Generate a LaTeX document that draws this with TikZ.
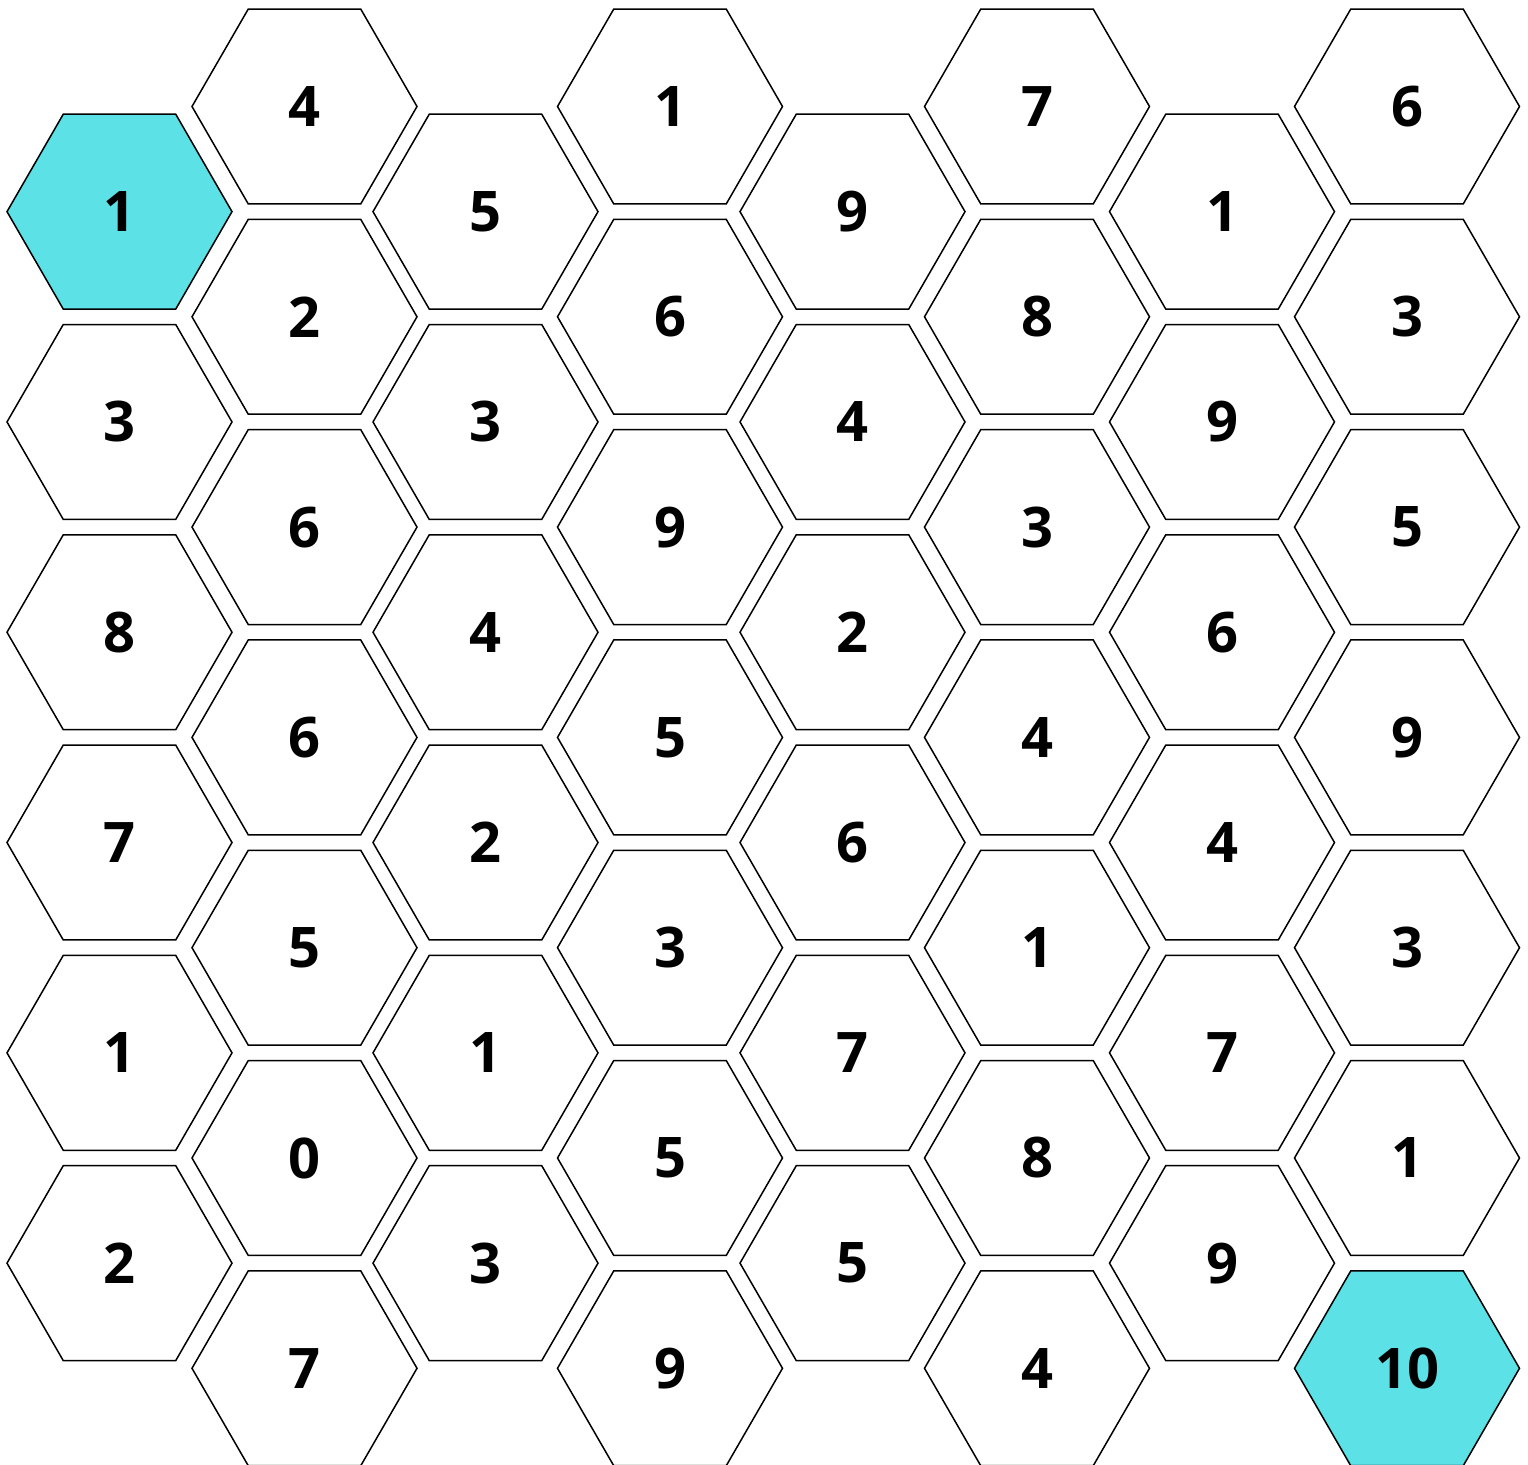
\documentclass[tikz,border=0pt]{standalone}
\usepackage{fontspec}
\setmainfont{Open Sans}
\usetikzlibrary{shapes.geometric}
\definecolor{goal}{HTML}{5CE1E6}

\begin{document}
\begin{tikzpicture}[x=0.5pt,y=-0.5pt,
  hexcell/.style={draw,line width=0.75pt,regular polygon,regular polygon sides=6,minimum size=112.5pt,inner sep=0pt,font=\fontsize{28}{30}\selectfont\bfseries}]
\useasboundingbox (0,0) rectangle (1528,1465);
% columns: index / x / first row slot / values from top
\foreach \c/\x/\k/\vals in {0/119.5/1/{1,3,8,7,1,2},1/304.5/0/{4,2,6,6,5,0,7},2/485.5/1/{5,3,4,2,1,3},3/670/0/{1,6,9,5,3,5,9},4/852.5/1/{9,4,2,6,7,5},5/1037/0/{7,8,3,4,1,8,4},6/1222/1/{1,9,6,4,7,9},7/1407/0/{6,3,5,9,3,1,10}}{
  \foreach \v [count=\i from 0] in \vals {
    \pgfmathsetmacro\y{106.5+105.15*(\k+2*\i)}
    \def\tone{white}
    \ifnum\c=0 \ifnum\i=0 \def\tone{goal}\fi\fi
    \ifnum\c=7 \ifnum\i=6 \def\tone{goal}\fi\fi
    \node[hexcell,fill=\tone] (h\c-\i) at (\x,\y) {\v};
  }
}
\end{tikzpicture}
\end{document}
